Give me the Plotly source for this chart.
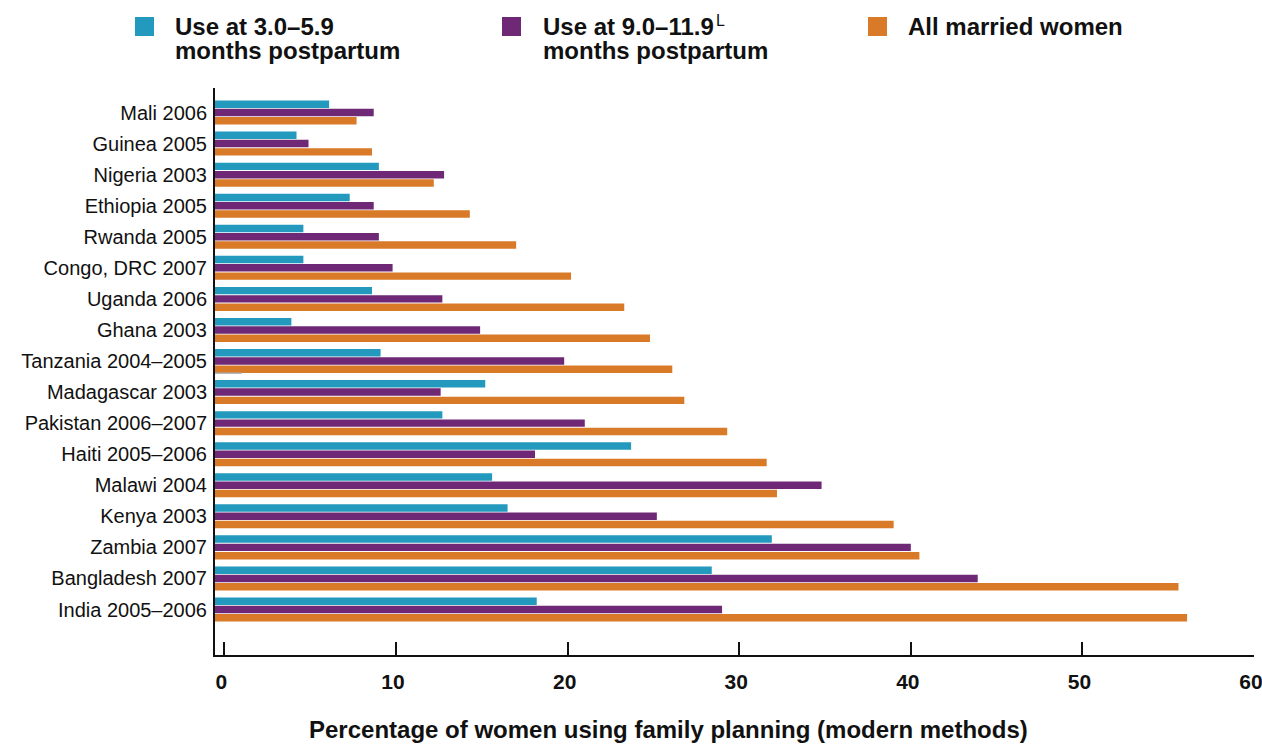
import plotly.graph_objects as go

# ---- data ----
countries = [
    "Mali 2006", "Guinea 2005", "Nigeria 2003", "Ethiopia 2005", "Rwanda 2005",
    "Congo, DRC 2007", "Uganda 2006", "Ghana 2003", "Tanzania 2004–2005",
    "Madagascar 2003", "Pakistan 2006–2007", "Haiti 2005–2006", "Malawi 2004",
    "Kenya 2003", "Zambia 2007", "Bangladesh 2007", "India 2005–2006",
]
use_3_6 = [6.1, 4.2, 9.0, 7.3, 4.6, 4.6, 8.6, 3.9, 9.1, 15.2, 12.7, 23.7, 15.6, 16.5, 31.9, 28.4, 18.2]
use_9_12 = [8.7, 4.9, 12.8, 8.7, 9.0, 9.8, 12.7, 14.9, 19.8, 12.6, 21.0, 18.1, 34.8, 25.2, 40.0, 43.9, 29.0]
all_married = [7.7, 8.6, 12.2, 14.3, 17.0, 20.2, 23.3, 24.8, 26.1, 26.8, 29.3, 31.6, 32.2, 39.0, 40.5, 55.6, 56.1]
x_ticks = [0, 10, 20, 30, 40, 50, 60]

series_names = ["Use at 3.0–5.9 months postpartum", "Use at 9.0–11.9 months postpartum", "All married women"]
colors = ["#2399BD", "#6E2876", "#D97A29"]

# ---- layout constants ----
W, H = 1262, 744
ML, MR, MT, MB = 215, 8, 88, 89
AXIS_MIN, AXIS_MAX = -0.55, 60
FONT = "Liberation Sans, Arial, Helvetica, sans-serif"
TXT = "#111111"

cats_bottom_up = countries[::-1]

fig = go.Figure()
# order: orange bottom, purple middle, cyan top within each group
for name, vals, col in [
    (series_names[2], all_married, colors[2]),
    (series_names[1], use_9_12, colors[1]),
    (series_names[0], use_3_6, colors[0]),
]:
    fig.add_trace(go.Bar(
        y=countries, x=[v - AXIS_MIN for v in vals], base=AXIS_MIN,
        orientation="h", name=name, marker=dict(color=col, line=dict(width=0)),
        showlegend=False, hovertemplate="%{y}: " + "%{customdata}<extra></extra>",
        customdata=vals,
    ))

pw = W - ML - MR
ph = H - MT - MB


def px_x(p):
    return (p - ML) / pw


def px_y(p):
    return (H - MB - p) / ph


shapes = []
annotations = []
legend_items = [
    (135, 173, ["Use at 3.0–5.9", "months postpartum"], colors[0]),
    (502, 541, ["Use at 9.0–11.9", "months postpartum"], colors[1]),
    (868, 906, ["All married women"], colors[2]),
]
for sq_x, tx, lines, col in legend_items:
    shapes.append(dict(type="rect", xref="paper", yref="paper",
                       x0=px_x(sq_x), x1=px_x(sq_x + 19), y0=px_y(36), y1=px_y(17),
                       fillcolor=col, line=dict(width=0)))
    for i, ln in enumerate(lines):
        annotations.append(dict(
            text=ln, xref="paper", yref="paper", x=px_x(tx), y=px_y(26.7 + 24 * i),
            xanchor="left", yanchor="middle", showarrow=False,
            font=dict(family=FONT, size=24, color=TXT, weight="bold"),
        ))
annotations.append(dict(
    text="L", xref="paper", yref="paper", x=px_x(714), y=px_y(20),
    xanchor="left", yanchor="middle", showarrow=False,
    font=dict(family=FONT, size=16, color=TXT),
))
annotations.append(dict(
    text="Percentage of women using family planning (modern methods)",
    xref="paper", yref="paper", x=px_x(668), y=px_y(729.7),
    xanchor="center", yanchor="middle", showarrow=False,
    font=dict(family=FONT, size=24, color=TXT, weight="bold"),
))

# small grey stray rule under the Tanzania group seen in the original
shapes.append(dict(type="line", xref="x", yref="y", x0=AXIS_MIN, x1=1.0,
                   y0=7.61, y1=7.61, layer="above",
                   line=dict(color="#AAAAAA", width=1.5)))

fig.update_layout(
    width=W, height=H,
    margin=dict(l=ML, r=MR, t=MT, b=MB, autoexpand=False),
    paper_bgcolor="white", plot_bgcolor="white",
    barmode="group", bargap=0.2, bargroupgap=0.1,
    showlegend=False,
    shapes=shapes, annotations=annotations,
    xaxis=dict(
        range=[AXIS_MIN, AXIS_MAX], tickvals=x_ticks, ticktext=[str(t) for t in x_ticks],
        showgrid=False, zeroline=False, showline=True, linecolor="#111", linewidth=2,
        ticks="inside", ticklen=13, tickwidth=1.5, tickcolor="#111",
        tickfont=dict(family=FONT, size=21, color=TXT, weight="bold"),
        ticklabelstandoff=7, ticklabelshift=-3, ticklabeloverflow="allow",
        fixedrange=True,
    ),
    yaxis=dict(
        type="category", categoryorder="array", categoryarray=cats_bottom_up,
        range=[-1.465, 16.79], showgrid=False, zeroline=False,
        showline=True, linecolor="#111", linewidth=2, ticks="",
        tickfont=dict(family=FONT, size=20, color=TXT),
        ticklabelstandoff=2, fixedrange=True,
    ),
)

fig.write_html(
    "out.html",
    config={"displayModeBar": False},
    post_script="document.body.style.margin='0';document.body.style.overflow='hidden';",
)
